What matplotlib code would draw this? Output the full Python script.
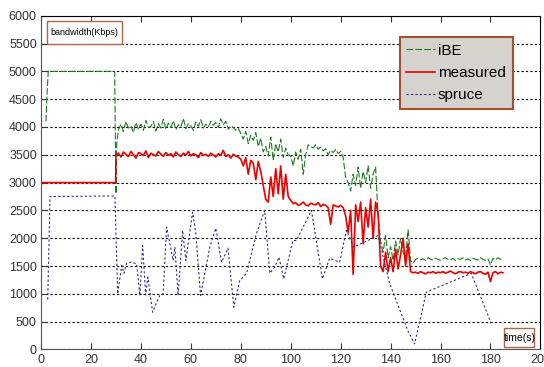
import matplotlib
matplotlib.use('Agg')
import matplotlib.pyplot as plt
from matplotlib.patches import Rectangle
import numpy as np

plt.rcParams['font.family'] = ['Liberation Sans Narrow', 'Liberation Sans', 'DejaVu Sans']

# iBE estimate (green dashed)
ibe_t_head = [2.0, 2.3, 2.9, 29.5, 30.0, 30.3]
ibe_v_head = [4100, 4500, 5000, 5000, 2800, 3700]
ibe_v = [3950, 4050, 3920, 4100, 3980, 4020, 3900, 4080, 3960,
         4050, 3940, 4120, 3990, 4010, 4100, 3930, 4060, 3980, 4140,
         3960, 4070, 3990, 4110, 3950, 4040, 4000, 4150, 3970, 4060,
         4020, 3940, 4090, 4010, 4130, 3980, 4050, 4000, 4100, 4030,
         4080, 3990, 4150, 4040, 4100, 3960, 4020, 3990, 3940, 3980,
         3880, 3780, 3920, 3700, 3850, 3760, 3900, 3650, 3800, 3550,
         3650, 3480, 3820, 3400, 3700, 3550, 3780, 3450, 3620, 3500,
         3480, 3300, 3550, 3420, 3600, 3150, 3500, 3680, 3650, 3620,
         3680, 3600, 3640, 3570, 3610, 3500, 3580, 3540, 3600, 3520,
         3560, 3450, 3100, 3000, 2850, 3150, 2950, 3280, 2900, 3200,
         3000, 3300, 2900, 3150, 3280, 2400, 1950, 1750, 2050, 1650,
         1850, 1600, 1950, 1700, 2000, 1750, 1650, 2150, 1600, 1550,
         1620, 1640, 1610, 1630, 1600, 1650, 1620, 1610, 1640, 1620,
         1600, 1630, 1650, 1620, 1610, 1640, 1600, 1630, 1620, 1650,
         1610, 1630, 1600, 1640, 1620, 1610, 1650, 1620, 1600, 1630,
         1520, 1640, 1610, 1650, 1620, 1640]

# measured bandwidth (red)
meas_t_head = [0.3, 29.9, 30.0]
meas_v_head = [3000, 3000, 3500]
meas_v = [3530, 3460, 3550, 3510, 3470, 3560, 3500, 3440, 3540,
          3520, 3490, 3570, 3450, 3530, 3500, 3480, 3560, 3510, 3470,
          3540, 3490, 3520, 3460, 3550, 3500, 3470, 3530, 3490, 3560,
          3480, 3520, 3500, 3450, 3540, 3490, 3510, 3470, 3530, 3500,
          3460, 3520, 3490, 3580, 3470, 3500, 3440, 3510, 3480, 3460,
          3420, 3300, 3450, 3150, 3400, 3350, 3050, 3380, 3200, 2950,
          2700, 2650, 3100, 2750, 3250, 2800, 3300, 2700, 3150, 2750,
          2680, 2620, 2640, 2590, 2610, 2650, 2600, 2580, 2630, 2610,
          2600, 2640, 2570, 2610, 2590, 2550, 2250, 2600, 2580, 2560,
          2590, 2550, 2400, 2100, 2500, 1350, 2600, 2300, 2650, 1900,
          2550, 2200, 2700, 2000, 2650, 2450, 1500, 1400, 1750, 1400,
          1650, 1400, 1800, 1450, 1700, 2000, 1500, 1900, 1400, 1380,
          1390, 1370, 1400, 1380, 1360, 1390, 1380, 1400, 1370, 1390,
          1380, 1400, 1370, 1390, 1410, 1380, 1360, 1390, 1400, 1380,
          1390, 1370, 1400, 1380, 1360, 1390, 1400, 1370, 1350, 1390,
          1220, 1380, 1400, 1360, 1390, 1380]
sec = list(range(31, 186))

# spruce estimate (blue dotted)
spruce_t = [2.7, 3.6, 29.6, 30.7, 32.3, 33.2, 34.3, 36, 38.3, 39.6, 40.7, 41.9, 42.8,
            44.7, 46.3, 47.6, 48.9, 50.3, 51.6, 52.9, 53.6, 54.9, 56.7, 58, 60.7, 62,
            63.9, 67.6, 70, 72.3, 74.9, 77.2, 79.6, 82.3, 86.3, 89.6, 91.6, 93.6, 95.3,
            97.2, 100.9, 102.3, 108.3, 112.7, 115.6, 119.6, 122.3, 125.2, 131, 135,
            139.6, 146.9, 149.6, 154.3, 172.3, 180.3]
spruce_v = [900, 2750, 2760, 1000, 1510, 1370, 1550, 1570, 1540, 970, 1870, 980, 1300,
            670, 850, 970, 1000, 2200, 1900, 1600, 1840, 970, 2140, 1600, 2470, 2090,
            970, 1840, 2180, 1570, 1820, 760, 1240, 1370, 2090, 2500, 1370, 1480, 1660,
            1270, 1960, 1960, 2500, 1270, 1640, 1570, 2140, 1840, 1960, 2050,
            1190, 340, 100, 1030, 1370, 470]

fig = plt.figure(figsize=(5.44, 3.67), dpi=100)
ax = fig.add_axes([0.0754, 0.0477, 0.918, 0.9095])

ax.plot(ibe_t_head + sec, ibe_v_head + ibe_v, color='#1f7a1f', lw=0.8,
        linestyle=(0, (6, 2)), label='iBE')
ax.plot(meas_t_head + sec, meas_v_head + meas_v, color='#ee0000', lw=1.2, label='measured')
ax.plot(spruce_t, spruce_v, color='#2b2b8c', lw=0.8, linestyle=(0, (2, 2)), label='spruce')

ax.set_xlim(0, 200)
ax.set_ylim(0, 6000)
ax.set_xticks(np.arange(0, 201, 20))
ax.set_yticks(np.arange(0, 6001, 500))
ax.tick_params(direction='in', length=4, labelsize=9, pad=3, top=True, colors='#333333')
for s in ['left', 'bottom']:
    ax.spines[s].set_color('#555555')
ax.spines['top'].set_color('black')
ax.yaxis.grid(True, color='black', lw=0.8, linestyle=(0, (2, 2)))

leg = ax.legend(loc='upper left', bbox_to_anchor=(0.718, 0.937), borderaxespad=0,
                handlelength=1.9, handletextpad=0.15, labelspacing=0.55, borderpad=0.45,
                fancybox=False, framealpha=1, prop={'family': 'Liberation Sans', 'size': 11})
leg.get_frame().set_facecolor('#d6d3ce')
leg.get_frame().set_edgecolor('#a0522d')
leg.get_frame().set_linewidth(1.5)

ax.add_patch(Rectangle((0.012, 0.916), 0.15, 0.068, transform=ax.transAxes,
                       facecolor='white', edgecolor='#b5654a', lw=1, zorder=5))
ax.text(0.087, 0.950, 'bandwidth(Kbps)', transform=ax.transAxes, fontsize=6.5,
        family='Liberation Sans', ha='center', va='center', zorder=6)
ax.add_patch(Rectangle((0.928, 0.006), 0.06, 0.057, transform=ax.transAxes,
                       facecolor='white', edgecolor='#b5654a', lw=1, zorder=5))
ax.text(0.958, 0.035, 'time(s)', transform=ax.transAxes, fontsize=7.5,
        ha='center', va='center', zorder=6)

fig.savefig('out.png', dpi=100)
